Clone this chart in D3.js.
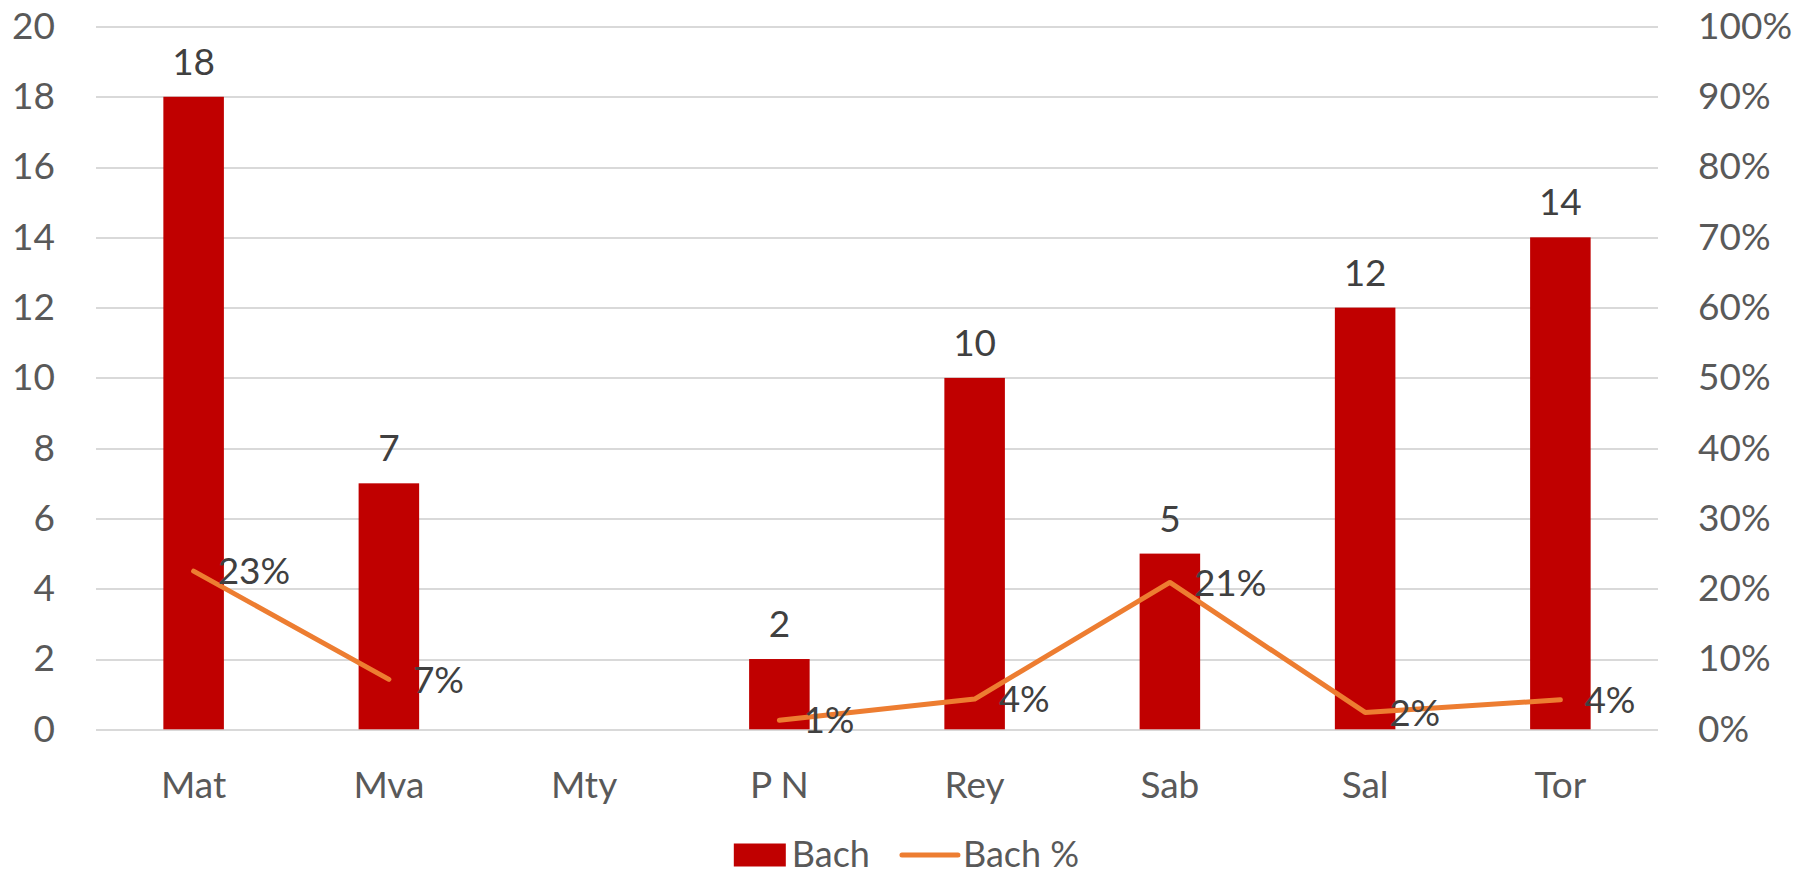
<!DOCTYPE html>
<html>
<head>
<meta charset="UTF-8">
<title>Bach</title>
<script src="https://d3js.org/d3.v7.min.js"></script>
<style>
  body { margin: 0; background: #fff; }
  .chart { font-family: Lato, "Open Sans", sans-serif; }
  .grid line { stroke: #d9d9d9; stroke-width: 2; shape-rendering: crispEdges; }
  .grid path { stroke-width: 0; }
  .axis path, .axis line { display: none; }
  .axis text { fill: #595959; font-size: 37px; font-family: Lato, sans-serif; }
</style>
</head>
<body>
<svg class="chart" width="1803" height="876"></svg>
<script>
// ---------------------------------------------------------------------
// data
var categories = ["Mat", "Mva", "Mty", "P N", "Rey", "Sab", "Sal", "Tor"];
var bachCount  = [18, 7, null, 2, 10, 5, 12, 14];
var bachPct    = [0.225, 0.071, null, 0.013, 0.043, 0.209, 0.024, 0.042];
var leftTicks  = [0, 2, 4, 6, 8, 10, 12, 14, 16, 18, 20];
var rightTicks = [0, 0.1, 0.2, 0.3, 0.4, 0.5, 0.6, 0.7, 0.8, 0.9, 1];
var seriesNames = ["Bach", "Bach %"];

var barColor = "#c00000", lineColor = "#ed7d31";

// ---------------------------------------------------------------------
var chart = d3.select(".chart"),
    margin = {top: 26.5, right: 145, bottom: 146.7, left: 96},
    W = +chart.attr("width"),
    H = +chart.attr("height"),
    width = W - margin.left - margin.right,
    height = H - margin.top - margin.bottom;

var g = chart.append("g").attr("transform", "translate(" + margin.left + "," + margin.top + ")");

var rows = categories.map(function(c, i) { return {cat: c, n: bachCount[i], p: bachPct[i]}; });

var x = d3.scaleBand().domain(categories).range([0, width]).paddingInner(0.69).paddingOuter(0.345);
var xc = d3.scaleBand().domain(categories).range([0, width]);   // category centres
var y = d3.scaleLinear().domain([0, 20]).range([height, 0]);
var y2 = d3.scaleLinear().domain([0, 1]).range([height, 0]);

// gridlines
g.append("g")
  .attr("class", "grid")
  .call(d3.axisLeft(y).tickValues(leftTicks).tickSize(-width).tickFormat(""));

// bars
g.append("g").selectAll("rect")
  .data(rows.filter(function(d) { return d.n != null; }))
  .enter().append("rect")
    .attr("x", function(d) { return x(d.cat); })
    .attr("y", function(d) { return y(d.n); })
    .attr("width", x.bandwidth())
    .attr("height", function(d) { return height - y(d.n); })
    .attr("fill", barColor);

// bar labels
g.append("g").selectAll("text")
  .data(rows.filter(function(d) { return d.n != null; }))
  .enter().append("text")
    .attr("x", function(d) { return xc(d.cat) + xc.bandwidth() / 2; })
    .attr("y", function(d) { return y(d.n) - 22; })
    .attr("text-anchor", "middle")
    .attr("fill", "#404040")
    .style("font-size", "37px")
    .text(function(d) { return d.n; });

// line (gap where there is no value)
var line = d3.line()
  .defined(function(d) { return d.p != null; })
  .x(function(d) { return xc(d.cat) + xc.bandwidth() / 2; })
  .y(function(d) { return y2(d.p); });

g.append("path")
  .datum(rows)
  .attr("d", line)
  .attr("fill", "none")
  .attr("stroke", lineColor)
  .attr("stroke-width", 5)
  .attr("stroke-linecap", "round")
  .attr("stroke-linejoin", "round");

// line labels
g.append("g").selectAll("text")
  .data(rows.filter(function(d) { return d.p != null; }))
  .enter().append("text")
    .attr("x", function(d) { return xc(d.cat) + xc.bandwidth() / 2 + 24; })
    .attr("y", function(d) { return y2(d.p); })
    .attr("dy", "0.36em")
    .attr("fill", "#404040")
    .style("font-size", "37px")
    .text(function(d) { return Math.round(d.p * 100) + "%"; });

// axes
g.append("g")
  .attr("class", "axis")
  .call(d3.axisLeft(y).tickValues(leftTicks).tickSize(0).tickPadding(41));

g.append("g")
  .attr("class", "axis")
  .attr("transform", "translate(" + width + ",0)")
  .call(d3.axisRight(y2).tickValues(rightTicks).tickSize(0).tickPadding(40).tickFormat(d3.format(".0%")));

g.append("g")
  .attr("class", "axis")
  .attr("transform", "translate(0," + height + ")")
  .call(d3.axisBottom(xc).tickSize(0).tickPadding(42));

// legend
var legend = chart.append("g").style("font-size", "36px").attr("fill", "#595959");
var ly = 854;
var sw = legend.append("rect").attr("width", 52).attr("height", 23).attr("fill", barColor);
var t1 = legend.append("text").attr("dy", "0.36em").attr("y", ly).text(seriesNames[0]);
var ln = legend.append("line").attr("stroke", lineColor).attr("stroke-width", 5).attr("stroke-linecap", "round");
var t2 = legend.append("text").attr("dy", "0.36em").attr("y", ly).text(seriesNames[1]);

var w1 = t1.node().getComputedTextLength(), w2 = t2.node().getComputedTextLength();
var total = 52 + 6 + w1 + 32 + 56 + 5 + w2;
var lx = W / 2 - total / 2 + 5;
sw.attr("x", lx).attr("y", ly - 10.5);
t1.attr("x", lx + 58);
var lx2 = lx + 58 + w1 + 32;
ln.attr("x1", lx2).attr("x2", lx2 + 56).attr("y1", ly + 1).attr("y2", ly + 1);
t2.attr("x", lx2 + 61);
</script>
</body>
</html>
